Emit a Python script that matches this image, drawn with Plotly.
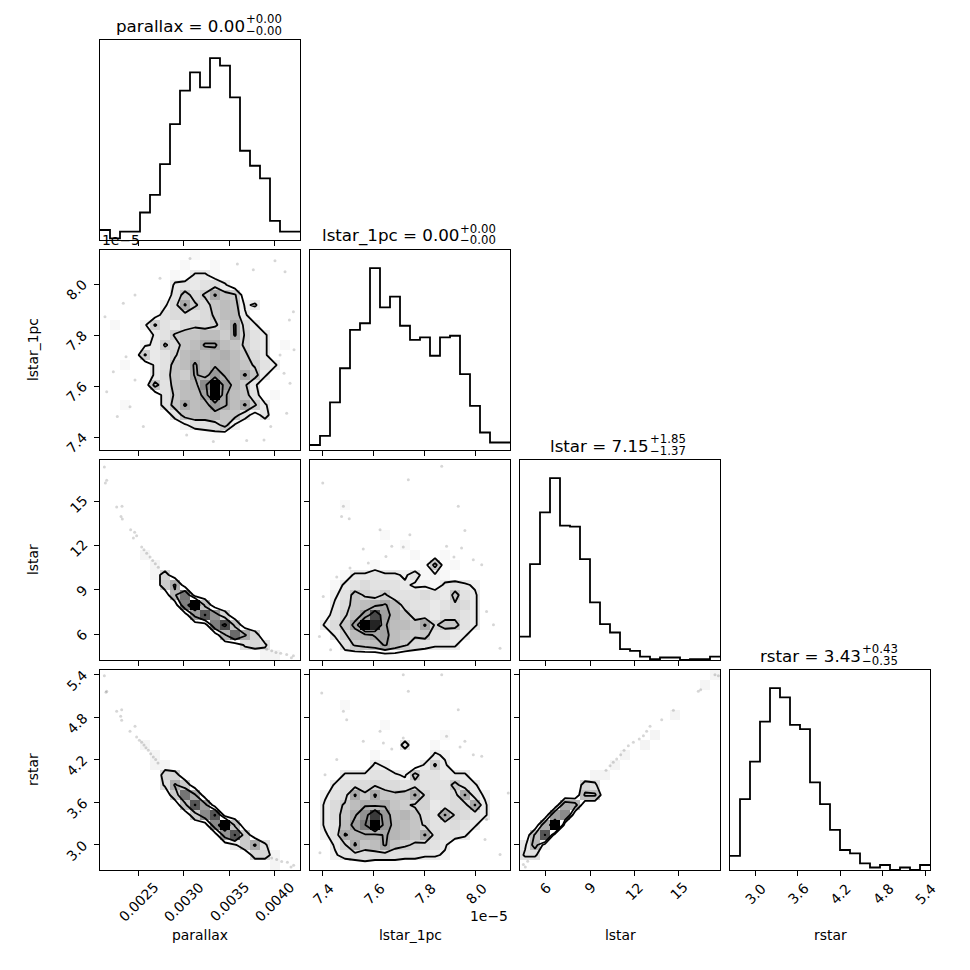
import numpy as np
import plotly.graph_objects as go
from plotly.subplots import make_subplots

# ---------------- data ----------------
names = ["parallax", "lstar_1pc", "lstar", "rstar"]
# sample min / max of each parameter (lstar_1pc in units of 1e-5)
ranges = [(0.002077, 0.004283), (7.349, 8.134), (4.25, 17.8), (2.645, 5.466)]
title_vals = [("0.00", "+0.00", "\u22120.00"), ("0.00", "+0.00", "\u22120.00"),
              ("7.15", "+1.85", "\u22121.37"), ("3.43", "+0.43", "\u22120.35")]
tick_vals = [[0.0025, 0.0030, 0.0035, 0.0040], [7.4, 7.6, 7.8, 8.0],
             [6, 9, 12, 15], [3.0, 3.6, 4.2, 4.8, 5.4]]
tick_text = [["0.0025", "0.0030", "0.0035", "0.0040"], ["7.4", "7.6", "7.8", "8.0"],
             ["6", "9", "12", "15"], ["3.0", "3.6", "4.2", "4.8", "5.4"]]

# 1D histograms, 20 bins over each range
hist_parallax = [12, 2, 10, 10, 33, 54, 91, 139, 179, 201, 183, 218, 209, 171, 107, 89, 74, 23, 10, 10]
hist_lstar_1pc = [6, 17, 57, 98, 144, 152, 218, 171, 184, 149, 132, 135, 113, 135, 137, 91, 53, 21, 9, 9]
hist_lstar = [28, 115, 177, 218, 161, 160, 121, 69, 43, 33, 13, 11, 4, 1, 3, 3, 0, 1, 1, 4]
hist_rstar = [17, 85, 130, 178, 218, 207, 174, 169, 105, 79, 48, 24, 20, 8, 3, 6, 0, 3, 0, 6]

# 2D histograms (20x20, base-36 counts, first row = top of panel)
h2_par_l1pc = [
    "00000000010000000000",
    "00000000100100000000",
    "00000001033100000000",
    "00000003434530000000",
    "00000004857c87000000",
    "00000025c75898230000",
    "00000145545799300000",
    "0100274356568c530000",
    "0000034788997c643000",
    "0000237589cc98643010",
    "000073469a9ab9753000",
    "001003489c9ba9864300",
    "000003587caeb9c83000",
    "000008489agzea730000",
    "0000004799dzc9840100",
    "00100048c9aec9c73000",
    "00000004899a88414000",
    "00000000244582000000",
    "00000000001100000000",
    "00000000000000000000",
]
h2_par_lstar = [
    "00000000000000000000",
    "00000000000000000000",
    "00000000000000000000",
    "00000000000000000000",
    "00000000000000000000",
    "00000000000000000000",
    "00000000000000000000",
    "00000000000000000000",
    "00000000000000000000",
    "00001000000000000000",
    "00000100000000000000",
    "00000140000000000000",
    "00000058000000000000",
    "00000007d00000000000",
    "00000000co6000000000",
    "0000000009ga40000000",
    "00000000000ch6000000",
    "0000000000007e840000",
    "00000000000000343000",
    "00000000000000001100",
]
h2_par_rstar = [
    "00000000000000000000",
    "00000000000000000000",
    "00000000000000000000",
    "00000000000000000000",
    "00000000000000000000",
    "00000000000000000000",
    "00000000000000000000",
    "00001000000000000000",
    "00000100000000000000",
    "00000110000000000000",
    "00000044000000000000",
    "00000038500000000000",
    "00000005d80000000000",
    "000000006g9000000000",
    "0000000005bg00000000",
    "00000000000bo6000000",
    "000000000000ag500000",
    "00000000000002583000",
    "00000000000000044100",
    "00000000000000000100",
]
h2_l1pc_lstar = [
    "00000000000000000000",
    "00000000000000000000",
    "00000000000000000000",
    "00000000000000000000",
    "00010000000000000000",
    "00000000000000000000",
    "00000000000000000000",
    "00000001000000000000",
    "00000000010000000000",
    "00000000001001000000",
    "00000010000180100000",
    "00013343324121000000",
    "00134544432213432000",
    "00248657444543843000",
    "003589ac954434653000",
    "01469dpda85435543000",
    "0358dzuc998c68843000",
    "00369acd987844330000",
    "0004789c975433300000",
    "00010001100000000000",
]
h2_l1pc_rstar = [
    "00000000000000000000",
    "00000000000000000000",
    "00000000000000000000",
    "00010000000000000000",
    "00000000000000000000",
    "00000001000000000000",
    "00000000000001000000",
    "00000000040010000000",
    "00000010000032000000",
    "00000032000373000000",
    "00033344328443330000",
    "00345565545444843000",
    "0245c7c878c6445c4200",
    "03579bab87663455c300",
    "0358bfre9a854c654300",
    "0349dizea98644543000",
    "024cabaca98c54430000",
    "0036c89c876543000000",
    "00245555444332000000",
    "00000100100000000000",
]
h2_lstar_rstar = [
    "00000000000000000001",
    "00000000000000000010",
    "00000000000000000000",
    "00000000000000000000",
    "00000000000000010000",
    "00000000000000000000",
    "00000000000001000000",
    "00000000000010000000",
    "00000000001000000000",
    "00000000010000000000",
    "00000001100000000000",
    "00000043000000000000",
    "00000066000000000000",
    "00008700000000000000",
    "0009b000000000000000",
    "008o0000000000000000",
    "06g00000000000000000",
    "27100000000000000000",
    "33000000000000000000",
    "00000000000000000000",
]

# contour levels per panel (in count units of the grids above)
levels_par_l1pc = [2.5, 6.5, 11.5, 18.5]
levels_par_lstar = [2.5, 7.5, 15.5, 22]
levels_par_rstar = [2.5, 7.5, 15.5, 22]
levels_l1pc_lstar = [2.5, 6.5, 11.5, 18.5]
levels_l1pc_rstar = [2.5, 6.5, 11.5, 18.5]
levels_lstar_rstar = [2.5, 5.5, 15.5, 22]

# faint individual samples outside the contours
dots_par_l1pc_x = [0.002132, 0.002334, 0.002463, 0.002739, 0.003070, 0.003592, 0.003768, 0.004007,
                   0.004118, 0.004210, 0.004166, 0.004217, 0.004063, 0.004107, 0.004173, 0.004136,
                   0.003960, 0.003886, 0.003695, 0.003327, 0.003033, 0.002268, 0.002151, 0.002224,
                   0.002364, 0.002463, 0.002408, 0.002555]
dots_par_l1pc_y = [7.872, 7.925, 7.957, 8.023, 8.101, 8.079, 8.056, 8.092, 8.049, 7.892, 7.859, 7.742,
                   7.722, 7.650, 7.611, 7.493, 7.441, 7.388, 7.386, 7.382, 7.408, 7.480, 7.578, 7.656,
                   7.715, 7.624, 7.519, 7.441]
dots_par_lstar_x = [0.002125, 0.002151, 0.002136, 0.002261, 0.002320, 0.002309, 0.002323, 0.002415,
                    0.002459, 0.002481, 0.002445, 0.002537, 0.002562, 0.002592, 0.002629, 0.002658,
                    0.002687, 0.002720, 0.003916, 0.003971, 0.004018, 0.004070, 0.004136, 0.004188,
                    0.004210]
dots_par_lstar_y = [17.33, 16.42, 16.24, 14.62, 14.66, 13.98, 13.80, 13.08, 12.90, 12.67, 12.51, 11.90,
                    11.72, 11.49, 11.22, 10.99, 10.77, 10.54, 4.98, 4.87, 4.76, 4.71, 4.62, 4.40, 4.53]
dots_par_rstar_x = [0.002125, 0.002151, 0.002143, 0.002261, 0.002316, 0.002305, 0.002316, 0.002408,
                    0.002463, 0.002481, 0.002511, 0.002537, 0.002562, 0.002584, 0.002610, 0.002636,
                    0.002665, 0.002691, 0.002717, 0.003971, 0.004026, 0.004081, 0.004144, 0.004184,
                    0.004213]
dots_par_rstar_y = [5.385, 5.165, 5.151, 4.883, 4.906, 4.812, 4.756, 4.601, 4.672, 4.521, 4.474, 4.446,
                    4.409, 4.371, 4.333, 4.286, 4.239, 4.202, 4.155, 2.816, 2.793, 2.765, 2.755, 2.689,
                    2.713]
dots_l1pc_lstar_x = [7.399, 7.480, 7.473, 7.503, 7.624, 7.715, 7.670, 7.558, 7.735, 7.866, 7.931, 7.957,
                     7.944, 7.990, 8.023, 8.042, 8.095, 8.069, 7.454, 7.401, 7.386, 7.430, 7.506, 7.578,
                     7.647, 7.741, 7.885, 7.914]
dots_l1pc_lstar_y = [16.24, 14.66, 13.98, 13.82, 13.08, 11.90, 11.95, 11.77, 16.47, 17.37, 14.66, 13.03,
                     11.83, 11.04, 10.70, 7.54, 5.05, 6.63, 9.87, 8.56, 5.84, 4.94, 10.48, 10.82, 11.27,
                     12.74, 11.95, 11.22]
dots_l1pc_rstar_x = [7.395, 7.480, 7.493, 7.624, 7.715, 7.735, 7.866, 7.931, 7.957, 7.990, 8.023, 7.938,
                     7.558, 7.670, 7.715, 7.885, 8.042, 8.095, 8.127, 8.036, 7.454, 7.408, 7.388, 7.506,
                     7.637]
dots_l1pc_rstar_y = [5.141, 4.883, 4.765, 4.601, 5.400, 5.165, 5.400, 4.906, 4.460, 4.272, 4.249, 4.380,
                     4.460, 4.352, 4.507, 4.531, 3.356, 2.863, 3.732, 3.075, 4.202, 3.990, 2.887, 2.793,
                     4.437]
dots_lstar_rstar_x = [17.46, 17.69, 16.33, 16.49, 14.64, 13.85, 13.06, 12.83, 12.61, 12.33, 11.93, 11.59,
                      11.30, 11.07, 10.80, 10.57, 10.35, 10.08, 4.48, 4.61, 4.77]
dots_lstar_rstar_y = [5.400, 5.385, 5.165, 5.188, 4.897, 4.765, 4.672, 4.601, 4.540, 4.493, 4.446, 4.399,
                      4.333, 4.272, 4.211, 4.164, 4.117, 4.051, 2.722, 2.689, 2.769]

hists = [hist_parallax, hist_lstar_1pc, hist_lstar, hist_rstar]
panels = {
    (1, 0): (h2_par_l1pc, levels_par_l1pc, dots_par_l1pc_x, dots_par_l1pc_y),
    (2, 0): (h2_par_lstar, levels_par_lstar, dots_par_lstar_x, dots_par_lstar_y),
    (3, 0): (h2_par_rstar, levels_par_rstar, dots_par_rstar_x, dots_par_rstar_y),
    (2, 1): (h2_l1pc_lstar, levels_l1pc_lstar, dots_l1pc_lstar_x, dots_l1pc_lstar_y),
    (3, 1): (h2_l1pc_rstar, levels_l1pc_rstar, dots_l1pc_rstar_x, dots_l1pc_rstar_y),
    (3, 2): (h2_lstar_rstar, levels_lstar_rstar, dots_lstar_rstar_x, dots_lstar_rstar_y),
}

NB = 20
FONT = "DejaVu Sans"
W = 970
PAGE_PAD = 8           # browser body margin in front of the figure
ML, MT, AREA = 100, 40, 830   # where the panel grid starts on the screenshot


def grid(rows):
    assert all(len(r) == NB for r in rows) and len(rows) == NB
    return np.array([[int(ch, 36) for ch in r] for r in rows[::-1]], dtype=float)


def edges(k):
    return np.linspace(ranges[k][0], ranges[k][1], NB + 1)


def centers(k):
    e = edges(k)
    return 0.5 * (e[1:] + e[:-1])


def padx(px):
    return (px - ML) / AREA


def pady(py):
    return 1 - (py - MT) / AREA


def ax_ref(r, c, axis):
    k = r * 4 + c + 1
    return axis if k == 1 else f"{axis}{k}"


fig = make_subplots(rows=4, cols=4, horizontal_spacing=10 / AREA, vertical_spacing=10 / AREA)

for (r, c), (rows, levels, dx, dy) in panels.items():
    H = grid(rows)
    xc, yc = centers(c), centers(r)
    fig.add_trace(go.Scatter(x=dx, y=dy, mode="markers", hoverinfo="skip",
                             marker=dict(size=3, color="rgba(0,0,0,0.16)")),
                  row=r + 1, col=c + 1)
    Hn = np.where(H > 0, H, np.nan)
    fig.add_trace(go.Heatmap(x=xc, y=yc, z=Hn, zmin=0, zmax=H.max(), showscale=False,
                             colorscale=[[0, "rgb(255,255,255)"], [1, "rgb(0,0,0)"]],
                             hoverinfo="skip"),
                  row=r + 1, col=c + 1)
    dxb, dyb = xc[1] - xc[0], yc[1] - yc[0]
    xp = np.concatenate([[xc[0] - dxb], xc, [xc[-1] + dxb]])
    yp = np.concatenate([[yc[0] - dyb], yc, [yc[-1] + dyb]])
    Hp = np.pad(H, 1)
    for lv in levels:
        fig.add_trace(go.Contour(x=xp, y=yp, z=Hp, autocontour=False, showscale=False,
                                 contours=dict(start=lv, end=lv, size=1, coloring="none"),
                                 line=dict(color="black", width=1.8, smoothing=0),
                                 hoverinfo="skip"),
                      row=r + 1, col=c + 1)

for k, counts in enumerate(hists):
    e = edges(k)
    fig.add_trace(go.Scatter(x=e, y=list(counts) + [counts[-1]], mode="lines", line_shape="hv",
                             line=dict(color="black", width=1.8), hoverinfo="skip"),
                  row=k + 1, col=k + 1)

axis_common = dict(showline=True, linecolor="black", linewidth=1, mirror=True, ticks="outside",
                   ticklen=5, tickwidth=1, tickcolor="black", showticklabels=False,
                   showgrid=False, zeroline=False)

for r in range(4):
    for c in range(4):
        if c > r:
            fig.update_xaxes(visible=False, row=r + 1, col=c + 1)
            fig.update_yaxes(visible=False, row=r + 1, col=c + 1)
            continue
        fig.update_xaxes(range=list(ranges[c]), tickvals=tick_vals[c], row=r + 1, col=c + 1,
                         **axis_common)
        if r == c:
            ymax = 1.1 * max(hists[c])
            fig.update_yaxes(range=[0, ymax], row=r + 1, col=c + 1,
                             **{**axis_common, "ticks": ""})
        else:
            fig.update_yaxes(range=list(ranges[r]), tickvals=tick_vals[r], row=r + 1, col=c + 1,
                             **axis_common)

ann = []
tick_font = dict(family=FONT, size=13.9, color="black")

# x tick labels along the bottom row
for c in range(4):
    for v, t in zip(tick_vals[c], tick_text[c]):
        ann.append(dict(x=v, xref=ax_ref(3, c, "x"), y=pady(885.5 + 2.67 * len(t)), yref="paper",
                        text=t, textangle=-45, showarrow=False, xanchor="center", yanchor="middle",
                        font=tick_font))
# y tick labels along the left column
for r in range(1, 4):
    for v, t in zip(tick_vals[r], tick_text[r]):
        n = len(t)
        ann.append(dict(x=padx(87 - (6 + 5 * n) / 2), xref="paper", y=v, yref=ax_ref(r, 0, "y"),
                        yshift=-0.7 * n * n, text=t, textangle=-45, showarrow=False,
                        xanchor="center", yanchor="middle", font=tick_font))

# axis labels
for k in range(4):
    ann.append(dict(x=padx(200 + 210 * k), y=pady(935), xref="paper", yref="paper", text=names[k],
                    showarrow=False, xanchor="center", yanchor="middle", font=tick_font))
for k in range(1, 4):
    ann.append(dict(x=padx(33), y=pady(140 + 210 * k), xref="paper", yref="paper", text=names[k],
                    textangle=-90, showarrow=False, xanchor="center", yanchor="middle",
                    font=tick_font))

# offset texts for lstar_1pc
ann.append(dict(x=padx(100), y=pady(240), xref="paper", yref="paper", text="1e\u22125",
                showarrow=False, xanchor="left", yanchor="middle", font=tick_font))
ann.append(dict(x=padx(510), y=pady(916), xref="paper", yref="paper", text="1e\u22125",
                showarrow=False, xanchor="right", yanchor="middle", font=tick_font))

# titles with stacked super/subscripts
split_x = [246.5, 460.5, 651.4, 862.5]
for k in range(4):
    top = 40 + 210 * k
    val, up, lo = title_vals[k]
    ann.append(dict(x=padx(split_x[k]), y=pady(top - 14), xref="paper", yref="paper",
                    text=f"{names[k]} = {val}", showarrow=False, xanchor="right", yanchor="middle",
                    font=dict(family=FONT, size=16.7, color="black")))
    ann.append(dict(x=padx(split_x[k] - 3), y=pady(top - 21), xref="paper", yref="paper",
                    text=up, showarrow=False, xanchor="left", yanchor="middle",
                    font=dict(family=FONT, size=11.7, color="black")))
    ann.append(dict(x=padx(split_x[k] - 3), y=pady(top - 9.5), xref="paper", yref="paper",
                    text=lo, showarrow=False, xanchor="left", yanchor="middle",
                    font=dict(family=FONT, size=11.7, color="black")))

fig.update_layout(width=W, height=W,
                  margin=dict(l=ML - PAGE_PAD, r=W - ML - AREA + PAGE_PAD,
                              t=MT - PAGE_PAD, b=W - MT - AREA + PAGE_PAD),
                  plot_bgcolor="white", paper_bgcolor="white", showlegend=False,
                  font=dict(family=FONT, color="black"), annotations=ann)

fig.write_html("out.html")
